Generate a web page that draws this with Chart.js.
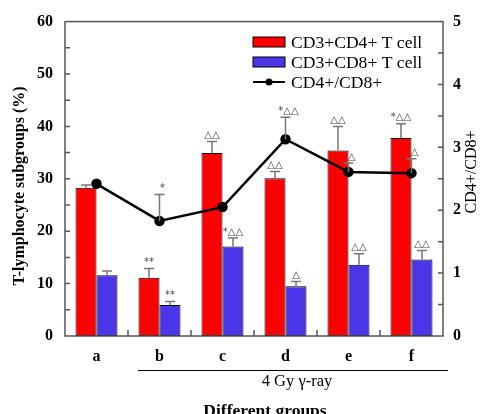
<!DOCTYPE html>
<html>
<head>
<meta charset="utf-8">
<script src="https://cdn.jsdelivr.net/npm/chart.js@4"></script>
<style>
  body { margin: 0; background: #fff; }
  canvas { display: block; }
</style>
</head>
<body>
<canvas id="chart" width="483" height="414"></canvas>
<script>
// data
const categories = ['a', 'b', 'c', 'd', 'e', 'f'];
const cd4Values = [28.3, 11.1, 34.9, 30.1, 35.4, 37.8];
const cd4Errors = [0.5, 1.8, 2.2, 1.3, 4.6, 2.7];
const cd8Values = [11.6, 5.9, 17.1, 9.5, 13.6, 14.6];
const cd8Errors = [0.8, 0.7, 1.6, 0.9, 2.1, 1.7];
const ratioValues = [2.42, 1.83, 2.05, 3.13, 2.61, 2.59];
const ratioErrors = [0, 0.42, 0, 0.35, 0.14, 0.23];
const cd4Marks = ['', '**', '△△', '△△', '△△', '*△△'];
const cd8Marks = ['', '**', '*△△', '△', '△△', '△△'];
const ratioMarks = ['', '*', '', '*△△', '△', '△'];
const leftTicks = [0, 10, 20, 30, 40, 50, 60];
const rightTicks = [0, 1, 2, 3, 4, 5];

const SERIF = '"Liberation Serif", "Times New Roman", serif';
const AXIS = '#555';

const extras = {
    id: 'extras',
    afterDatasetsDraw(chart) {
        const ctx = chart.ctx;
        const area = chart.chartArea;
        const y = chart.scales.y;
        const y1 = chart.scales.y1;
        const x = chart.scales.x;

        ctx.save();
        // frame
        ctx.strokeStyle = AXIS;
        ctx.lineWidth = 1.5;
        ctx.strokeRect(area.left, area.top, area.right - area.left, area.bottom - area.top);

        // inward ticks, majors and minors
        ctx.beginPath();
        for (let v = 5; v < 60; v += 5) {
            const py = y.getPixelForValue(v);
            ctx.moveTo(area.left, py);
            ctx.lineTo(area.left + 5, py);
        }
        for (let v = 0.5; v < 5; v += 0.5) {
            const py = y1.getPixelForValue(v);
            ctx.moveTo(area.right, py);
            ctx.lineTo(area.right - 5, py);
        }
        for (let i = 0; i < categories.length - 1; i++) {
            const px = (x.getPixelForValue(i) + x.getPixelForValue(i + 1)) / 2;
            ctx.moveTo(px, area.bottom);
            ctx.lineTo(px, area.bottom - 6);
        }
        ctx.stroke();

        // error bars + significance marks
        const drawErr = (px, base, top, mark, dx) => {
            ctx.strokeStyle = '#777';
            ctx.lineWidth = 1.5;
            ctx.beginPath();
            ctx.moveTo(px, base);
            ctx.lineTo(px, top);
            ctx.moveTo(px - 5, top);
            ctx.lineTo(px + 5, top);
            ctx.stroke();
            if (mark) {
                ctx.fillStyle = '#445';
                ctx.font = '10px "DejaVu Sans", sans-serif';
                ctx.textAlign = 'center';
                ctx.textBaseline = 'bottom';
                ctx.fillText(mark, px + (dx || 0), top - 1);
            }
        };
        const m0 = chart.getDatasetMeta(0);
        const m1 = chart.getDatasetMeta(1);
        const m2 = chart.getDatasetMeta(2);
        categories.forEach((c, i) => {
            const b0 = m0.data[i];
            drawErr(b0.x, b0.y, y.getPixelForValue(cd4Values[i] + cd4Errors[i]), cd4Marks[i]);
            const b1 = m1.data[i];
            drawErr(b1.x, b1.y, y.getPixelForValue(cd8Values[i] + cd8Errors[i]), cd8Marks[i]);
            if (ratioErrors[i] > 0) {
                const p = m2.data[i];
                drawErr(p.x, p.y, y1.getPixelForValue(ratioValues[i] + ratioErrors[i]), ratioMarks[i], 3);
            }
        });

        // legend
        const lx = 253, ly = 42;
        const items = [
            { type: 'box', color: '#ff0000', text: 'CD3+CD4+ T cell' },
            { type: 'box', color: '#4a36e8', text: 'CD3+CD8+ T cell' },
            { type: 'line', color: '#000', text: 'CD4+/CD8+' }
        ];
        items.forEach((it, k) => {
            const cy = ly + k * 20;
            if (it.type === 'box') {
                ctx.fillStyle = it.color;
                ctx.fillRect(lx, cy - 5, 32, 10);
                ctx.strokeStyle = '#000';
                ctx.lineWidth = 1;
                ctx.strokeRect(lx, cy - 5, 32, 10);
            } else {
                ctx.strokeStyle = '#000';
                ctx.lineWidth = 2;
                ctx.beginPath();
                ctx.moveTo(lx, cy);
                ctx.lineTo(lx + 32, cy);
                ctx.stroke();
                ctx.fillStyle = '#000';
                ctx.beginPath();
                ctx.arc(lx + 16, cy, 3.5, 0, Math.PI * 2);
                ctx.fill();
            }
            ctx.fillStyle = '#000';
            ctx.font = '17.6px ' + SERIF;
            ctx.textAlign = 'left';
            ctx.textBaseline = 'middle';
            ctx.fillText(it.text, lx + 38, cy + 1);
        });

        // axis titles
        ctx.fillStyle = '#000';
        ctx.textAlign = 'center';
        ctx.textBaseline = 'middle';
        ctx.save();
        ctx.translate(20, 186);
        ctx.rotate(-Math.PI / 2);
        ctx.font = 'bold 16px ' + SERIF;
        ctx.fillText('T-lymphocyte subgroups (%)', 0, 0);
        ctx.restore();
        ctx.save();
        ctx.translate(472, 172);
        ctx.rotate(-Math.PI / 2);
        ctx.font = '16px ' + SERIF;
        ctx.fillText('CD4+/CD8+', 0, 0);
        ctx.restore();

        // treatment bracket under b..f
        ctx.strokeStyle = '#000';
        ctx.lineWidth = 1;
        ctx.beginPath();
        ctx.moveTo(138, 370.5);
        ctx.lineTo(448, 370.5);
        ctx.stroke();
        ctx.font = '16.5px ' + SERIF;
        ctx.fillText('4 Gy γ-ray', 297, 382);
        ctx.font = 'bold 17.5px ' + SERIF;
        ctx.fillText('Different groups', 265, 411);
        ctx.restore();
    }
};

new Chart(document.getElementById('chart'), {
    data: {
        labels: categories,
        datasets: [
            {
                type: 'bar',
                label: 'CD3+CD4+ T cell',
                data: cd4Values,
                backgroundColor: '#ff0000',
                borderColor: '#000',
                borderWidth: 1,
                borderSkipped: false,
                yAxisID: 'y',
                order: 2
            },
            {
                type: 'bar',
                label: 'CD3+CD8+ T cell',
                data: cd8Values,
                backgroundColor: '#4a36e8',
                borderColor: '#000',
                borderWidth: 1,
                borderSkipped: false,
                yAxisID: 'y',
                order: 2
            },
            {
                type: 'line',
                label: 'CD4+/CD8+',
                data: ratioValues,
                borderColor: '#000',
                borderWidth: 2.5,
                pointRadius: 4,
                pointBackgroundColor: '#000',
                pointBorderColor: '#000',
                tension: 0,
                yAxisID: 'y1',
                order: 0
            }
        ]
    },
    options: {
        responsive: false,
        animation: false,
        layout: { padding: { top: 20 } },
        plugins: {
            legend: { display: false },
            tooltip: { enabled: false }
        },
        datasets: {
            bar: { categoryPercentage: 0.667, barPercentage: 1 }
        },
        scales: {
            x: {
                grid: { display: false, drawTicks: false },
                border: { display: false },
                ticks: {
                    padding: 11,
                    color: '#000',
                    font: { family: SERIF, size: 16, weight: 'bold' }
                },
                afterFit: (s) => { s.height = 78; }
            },
            y: {
                position: 'left',
                min: 0,
                max: 60,
                grid: { display: false, drawTicks: false },
                border: { display: false },
                afterBuildTicks: (s) => { s.ticks = leftTicks.map(v => ({ value: v })); },
                ticks: {
                    padding: 12,
                    color: '#000',
                    font: { family: SERIF, size: 16, weight: 'bold' }
                },
                afterFit: (s) => { s.width = 65; }
            },
            y1: {
                position: 'right',
                min: 0,
                max: 5,
                grid: { display: false, drawTicks: false },
                border: { display: false },
                afterBuildTicks: (s) => { s.ticks = rightTicks.map(v => ({ value: v })); },
                ticks: {
                    padding: 10,
                    color: '#000',
                    font: { family: SERIF, size: 16, weight: 'bold' }
                },
                afterFit: (s) => { s.width = 40; }
            }
        }
    },
    plugins: [extras]
});
</script>
</body>
</html>
